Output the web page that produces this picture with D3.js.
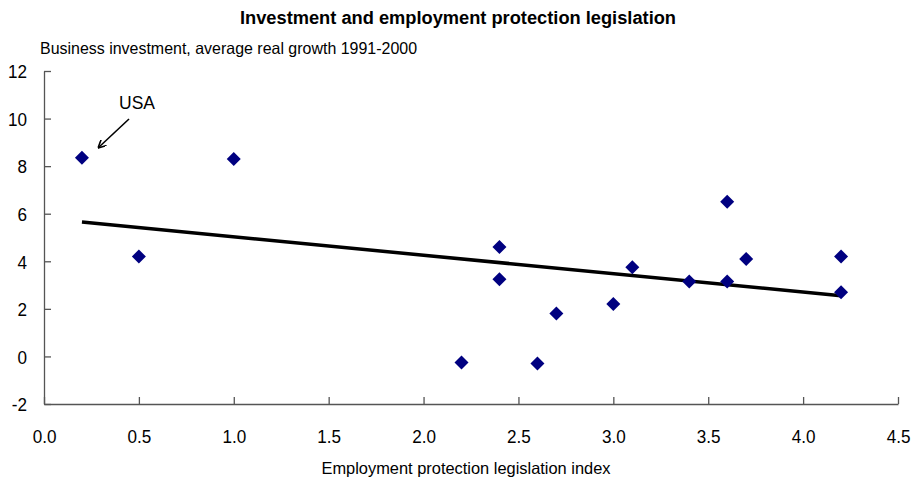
<!DOCTYPE html>
<html>
<head>
<meta charset="utf-8">
<script src="https://cdn.jsdelivr.net/npm/d3@7"></script>
<style>
  body { margin: 0; background: #fff; }
  text { font-family: "Liberation Sans", Arial, sans-serif; fill: #000; }
</style>
</head>
<body>
<div id="chart"></div>
<script>
const width = 916;
const height = 487;

// EPL index and business investment growth per country
const eplIndex = [0.2, 0.5, 1.0, 2.2, 2.4, 2.4, 2.6, 2.7, 3.0, 3.1, 3.4, 3.6, 3.6, 3.7, 4.2, 4.2];
const investGrowth = [8.35, 4.2, 8.3, -0.25, 4.6, 3.25, -0.3, 1.8, 2.2, 3.75, 3.15, 6.5, 3.15, 4.1, 4.2, 2.7];

// fitted trend line end points
const trendX = [0.2, 4.2];
const trendY = [5.65, 2.55];

const xTicks = [0, 0.5, 1, 1.5, 2, 2.5, 3, 3.5, 4, 4.5];
const yTicks = [-2, 0, 2, 4, 6, 8, 10, 12];

const margin = {top: 71, left: 44, right: 18, bottom: 83};
const narrow = 0.9; // squeeze tick labels to mimic a narrow typeface

const x = d3.scaleLinear().domain([0, 4.5]).range([margin.left, width - margin.right]);
const y = d3.scaleLinear().domain([-2, 12]).range([height - margin.bottom, margin.top]);

const svg = d3.select("#chart").append("svg")
    .attr("width", width)
    .attr("height", height);

// text squeezed to a given width, like the narrow face of the original
function fitText(px, py, size, str, len, anchor, bold) {
    return svg.append("text")
        .attr("x", px).attr("y", py)
        .attr("text-anchor", anchor || "start")
        .attr("font-size", size)
        .attr("font-weight", bold ? "bold" : "normal")
        .attr("textLength", len)
        .attr("lengthAdjust", "spacingAndGlyphs")
        .text(str);
}

fitText(458, 24, 17.5, "Investment and employment protection legislation", 436, "middle", true);
fitText(40, 54, 16.5, "Business investment, average real growth 1991-2000", 377);

// axes
const fmtY = d => d < 0 ? "-" + Math.abs(d) : String(d);

const xAxis = svg.append("g")
    .attr("transform", "translate(0," + y(-2) + ")")
    .call(d3.axisBottom(x).tickValues(xTicks).tickSizeInner(-7).tickSizeOuter(0).tickPadding(26).tickFormat(d3.format(".1f")));

const yAxis = svg.append("g")
    .attr("transform", "translate(" + x(0) + ",0)")
    .call(d3.axisLeft(y).tickValues(yTicks).tickSizeInner(-7).tickSizeOuter(0).tickPadding(17).tickFormat(fmtY));

[xAxis, yAxis].forEach(g => {
    g.select(".domain").attr("stroke", "#555").attr("stroke-width", 1.3);
    g.selectAll(".tick line").attr("stroke", "#555").attr("stroke-width", 1.3);
    g.selectAll(".tick text").attr("font-size", 19).attr("fill", "#000")
        .style("font-family", "'Liberation Sans', Arial, sans-serif");
});
xAxis.selectAll(".tick text").attr("transform", "scale(" + narrow + ",1)");
yAxis.selectAll(".tick text")
    .attr("x", -17 / narrow)
    .attr("dy", "0.36em")
    .attr("transform", "scale(" + narrow + ",1)");

fitText(466, 474, 16.5, "Employment protection legislation index", 289, "middle");

// trend line
svg.append("line")
    .attr("x1", x(trendX[0])).attr("y1", y(trendY[0]))
    .attr("x2", x(trendX[1])).attr("y2", y(trendY[1]))
    .attr("stroke", "#000")
    .attr("stroke-width", 3.5);

// points
const pts = eplIndex.map((d, i) => ({epl: d, inv: investGrowth[i]}));
svg.append("g").selectAll("path")
    .data(pts)
    .enter()
    .append("path")
    .attr("d", "M0,-7L7,0L0,7L-7,0Z")
    .attr("fill", "#000080")
    .attr("transform", d => "translate(" + x(d.epl) + "," + y(d.inv) + ")");

// USA annotation
svg.append("defs").append("marker")
    .attr("id", "arrow")
    .attr("viewBox", "0 -5 10 10")
    .attr("refX", 10).attr("refY", 0)
    .attr("markerWidth", 8).attr("markerHeight", 8)
    .attr("markerUnits", "userSpaceOnUse")
    .attr("orient", "auto")
    .append("path")
    .attr("d", "M0,-5L10,0L0,5")
    .attr("fill", "none")
    .attr("stroke", "#000")
    .attr("stroke-width", 2);

svg.append("line")
    .attr("x1", 129).attr("y1", 119)
    .attr("x2", 98).attr("y2", 148)
    .attr("stroke", "#000")
    .attr("stroke-width", 1.6)
    .attr("marker-end", "url(#arrow)");

fitText(119, 109, 19, "USA", 36);
</script>
</body>
</html>
